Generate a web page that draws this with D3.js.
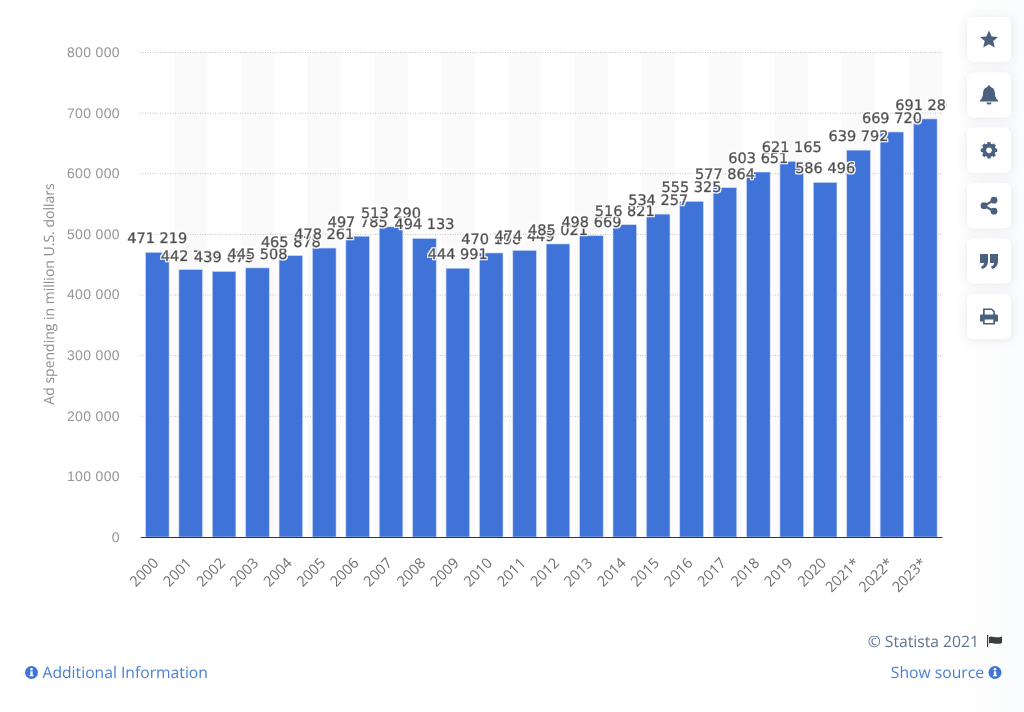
<!DOCTYPE html>
<html>
<head>
<meta charset="utf-8">
<script src="https://cdnjs.cloudflare.com/ajax/libs/d3/7.8.5/d3.min.js"></script>
<style>
html,body{margin:0;padding:0;background:#fff;overflow:hidden}
svg{display:block;text-rendering:geometricPrecision;opacity:0.999}
</style>
</head>
<body>
<div id="chart"></div>
<script>
var years = ["2000","2001","2002","2003","2004","2005","2006","2007","2008","2009","2010","2011","2012","2013","2014","2015","2016","2017","2018","2019","2020","2021*","2022*","2023*"];
var spending = [471219,442736,439675,445508,465878,478261,497785,513290,494133,444991,470198,474449,485021,498669,516821,534257,555325,577864,603651,621165,586496,639792,669720,691280];
var yTicks = [0,100000,200000,300000,400000,500000,600000,700000,800000];

var width = 1024;
var height = 712;
var margin = {top:52,bottom:175,left:140,right:83};
var innerWidth = width - margin.left - margin.right;
var innerHeight = height - margin.top - margin.bottom;

var svg = d3.select("#chart").append("svg")
	.attr("width",width)
	.attr("height",height);

var defs = svg.append("defs");
var shadow = defs.append("filter").attr("id","card-shadow")
	.attr("x","-40%").attr("y","-40%").attr("width","180%").attr("height","180%");
shadow.append("feDropShadow")
	.attr("dx",0).attr("dy",1).attr("stdDeviation",5)
	.attr("flood-color","#5a6b85").attr("flood-opacity",0.14);

// white outline round the value labels
var halo = defs.append("filter").attr("id","label-halo")
	.attr("x","-10%").attr("y","-30%").attr("width","120%").attr("height","160%");
halo.append("feMorphology").attr("in","SourceAlpha").attr("operator","dilate").attr("radius",1).attr("result","fat");
halo.append("feFlood").attr("flood-color","#fff").attr("result","white");
halo.append("feComposite").attr("in","white").attr("in2","fat").attr("operator","in").attr("result","outline");
var haloMerge = halo.append("feMerge");
haloMerge.append("feMergeNode").attr("in","outline");
haloMerge.append("feMergeNode").attr("in","SourceGraphic");

// faint shade behind the toolbar
var shade = defs.append("linearGradient").attr("id","side-shade");
shade.append("stop").attr("offset","0").attr("stop-color","#fff");
shade.append("stop").attr("offset","1").attr("stop-color","#fafbfc");
svg.append("rect")
	.attr("x",950).attr("y",0).attr("width",74).attr("height",height)
	.attr("fill","url(#side-shade)");

var spaced = n => d3.format(",")(n).replace(/,/g," ");

var xscale = d3.scaleBand()
	.domain(years)
	.range([0.6,innerWidth+1]);

var yscale = d3.scaleLinear()
	.domain([0,800000])
	.range([innerHeight,0]);

var g = svg.append("g")
	.attr("transform","translate("+margin.left+","+margin.top+")");

// zebra stripes behind every other year
g.selectAll(".stripe").data(years.filter((d,i) => i%2==1))
	.enter().append("rect")
	.attr("class","stripe")
	.attr("x",d => xscale(d))
	.attr("y",0)
	.attr("width",xscale.bandwidth())
	.attr("height",innerHeight)
	.attr("fill","#fafafa");

var yaxis = d3.axisLeft(yscale)
	.tickValues(yTicks)
	.tickFormat(spaced)
	.tickSize(-innerWidth)
	.tickPadding(20);

var yg = g.append("g").call(yaxis);
yg.select(".domain").remove();
yg.selectAll("line")
	.attr("stroke","#c4c4c4")
	.attr("stroke-dasharray","1 1.5");
yg.selectAll("text")
	.attr("fill","#959595")
	.style("font-family","'Liberation Sans',Arial,sans-serif")
	.style("font-size","14px")
	.style("letter-spacing","0.35px");

svg.append("text")
	.attr("transform","translate(54,294) rotate(-90)")
	.attr("text-anchor","middle")
	.attr("fill","#8c8c8c")
	.style("font-family","'Open Sans',sans-serif")
	.style("font-size","14px")
	.text("Ad spending in million U.S. dollars");

// bars sit about a pixel under the value in the reference
var barWidth = 23.6;
var barDrop = 1;
g.selectAll(".bar").data(spending)
	.enter().append("rect")
	.attr("class","bar")
	.attr("x",(d,i) => xscale(years[i]) + (xscale.bandwidth()-barWidth)/2)
	.attr("y",d => yscale(d) + barDrop)
	.attr("width",barWidth)
	.attr("height",d => innerHeight - yscale(d) - barDrop)
	.attr("fill","#4073d8")
	.attr("stroke","#cfdcf5")
	.attr("stroke-width",0.6);

var xaxis = d3.axisBottom(xscale).tickSize(0).tickPadding(0);
var xg = g.append("g")
	.attr("transform","translate(0,"+innerHeight+")")
	.call(xaxis);
xg.select(".domain").attr("stroke","#333").attr("stroke-width",1.2);
xg.selectAll("text")
	.attr("fill","#6f6f6f")
	.attr("text-anchor","end")
	.attr("dy",0)
	.attr("transform","translate(2,27) rotate(-45)")
	.style("font-family","'Open Sans',sans-serif")
	.style("font-size","14.5px");

// value labels, later ones cover earlier ones. the last one is cut off at the plot edge
defs.append("clipPath").attr("id","plot-clip")
	.append("rect").attr("x",0).attr("y",0).attr("width",947).attr("height",height);

var labels = svg.append("g").attr("clip-path","url(#plot-clip)")
	.append("g").attr("transform","translate("+margin.left+","+margin.top+")");
labels.selectAll(".value").data(spending)
	.enter().append("text")
	.attr("class","value")
	.attr("x",(d,i) => xscale(years[i]) + xscale.bandwidth()/2)
	.attr("y",d => yscale(d) - 8)
	.attr("text-anchor","middle")
	.attr("fill","#4d4d4d")
	.attr("stroke","#4d4d4d")
	.attr("stroke-width",0.55)
	.attr("filter","url(#label-halo)")
	.style("font-family","'DejaVu Sans',sans-serif")
	.style("font-size","14.5px")
	.text(d => spaced(d));

// toolbar on the right
var cardNames = ["star","bell","gear","share","quote","print"];
var cardTop = d3.scaleLinear().domain([0,5]).range([17,294]);
var iconColor = "#49617f";
var iconPaths = {
	star:"M0,-9 L2.7,-3 L9,-2.6 L4.3,1.6 L5.8,8 L0,4.7 L-5.8,8 L-4.3,1.6 L-9,-2.6 L-2.7,-3 Z",
	bell:"M-1.6,-8 A1.6,1.6 0 0 1 1.6,-8 C5,-7 6,-4 6,-1 C6,2 7.5,4 9,5.5 L9,6.5 L-9,6.5 L-9,5.5 C-7.5,4 -6,2 -6,-1 C-6,-4 -5,-7 -1.6,-8 Z M-2.6,7.5 L2.6,7.5 A2.6,2.2 0 0 1 -2.6,7.5 Z",
	quote:"M-9,-7 L-1,-7 L-1,0 C-1,4 -3,7 -7,8 L-8,5.5 C-6,5 -5,3.5 -5,2 L-9,2 Z M1,-7 L9,-7 L9,0 C9,4 7,7 3,8 L2,5.5 C4,5 5,3.5 5,2 L1,2 Z",
	print:"M-6,-8 L3,-8 L6,-5 L6,-2 L8,-2 Q9,-2 9,-1 L9,5 L6,5 L6,8 L-6,8 L-6,5 L-9,5 L-9,-1 Q-9,-2 -8,-2 L-6,-2 Z M-4.3,-6.4 L-4.3,-2 L4.3,-2 L4.3,-4.4 L2.4,-6.4 Z M-4.3,3 L-4.3,6.4 L4.3,6.4 L4.3,3 Z"
};
var toolbar = svg.append("g");
var cards = toolbar.selectAll(".card").data(cardNames)
	.enter().append("g")
	.attr("class","card")
	.attr("transform",(d,i) => "translate(967,"+cardTop(i)+")");
cards.append("rect")
	.attr("width",44).attr("height",45).attr("rx",6)
	.attr("fill","#fff")
	.attr("filter","url(#card-shadow)");
cards.filter(d => iconPaths[d]).append("path")
	.attr("transform","translate(22,22.5)")
	.attr("d",d => iconPaths[d])
	.attr("fill",iconColor)
	.attr("fill-rule","evenodd");

var gear = cards.filter(d => d == "gear").append("g").attr("transform","translate(22,22.5)");
gear.append("circle").attr("r",4.8).attr("fill","none").attr("stroke",iconColor).attr("stroke-width",3.8);
gear.selectAll("rect").data(d3.range(8)).enter().append("rect")
	.attr("x",-1.7).attr("y",-8.2).attr("width",3.4).attr("height",3.2)
	.attr("fill",iconColor)
	.attr("transform",d => "rotate("+d*45+")");

var share = cards.filter(d => d == "share").append("g").attr("transform","translate(22,22.5)");
share.append("path").attr("d","M5,-5.5 L-5,0 L5,5.5").attr("fill","none").attr("stroke",iconColor).attr("stroke-width",2.2);
share.selectAll("circle").data([[-5,0],[5,-5.5],[5,5.5]]).enter().append("circle")
	.attr("cx",d => d[0]).attr("cy",d => d[1]).attr("r",3.4)
	.attr("fill",iconColor);

// footer
var footer = svg.append("g").style("font-family","'Open Sans',sans-serif").style("font-size","15.7px");
function infoIcon(x,y){
	var ic = footer.append("g").attr("transform","translate("+x+","+y+")");
	ic.append("circle").attr("r",6.5).attr("fill","#3f76d6");
	ic.append("rect").attr("x",-1.2).attr("y",-1.2).attr("width",2.4).attr("height",4.6).attr("fill","#fff");
	ic.append("rect").attr("x",-2).attr("y",2.6).attr("width",4).attr("height",1.2).attr("fill","#fff");
	ic.append("circle").attr("cy",-3.3).attr("r",1.3).attr("fill","#fff");
}
infoIcon(31.5,672.5);
footer.append("text").attr("x",42.5).attr("y",678).attr("fill","#4a7fd6").text("Additional Information");
infoIcon(995,672.5);
footer.append("text").attr("x",984).attr("y",678).attr("text-anchor","end").attr("fill","#4a7fd6").text("Show source");
footer.append("text").attr("x",979).attr("y",646.5).attr("text-anchor","end").attr("fill","#5f7390").text("© Statista 2021");
footer.append("path")
	.attr("d","M987,635 L988.2,635 L988.2,647 L987,647 Z M989,637 C992,635 995,639 1002,636.5 L1002,643 C996,645.5 992,641.5 989,643.5 Z")
	.attr("fill","#3d3d3d");
</script>
</body>
</html>
